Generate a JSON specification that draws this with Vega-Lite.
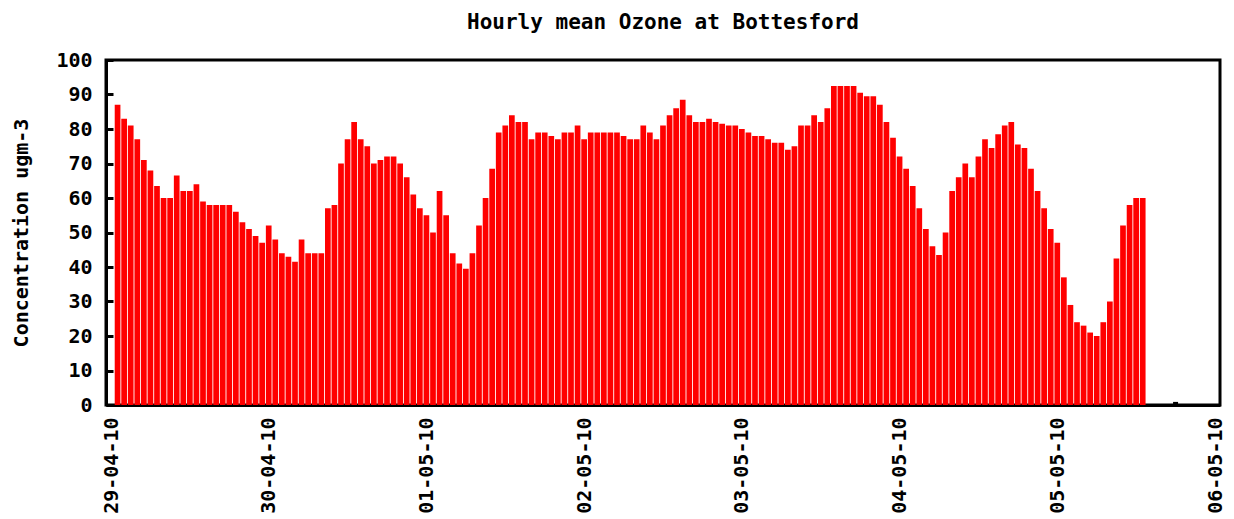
{
  "$schema": "https://vega.github.io/schema/vega-lite/v6.json",
  "autosize": {"type": "none"},
  "width": 1114,
  "height": 345,
  "padding": {"left": 106, "top": 60, "right": 14, "bottom": 114},
  "background": "white",
  "title": {
    "text": "Hourly mean Ozone at Bottesford",
    "font": "DejaVu Sans Mono",
    "fontWeight": "bold",
    "fontSize": 21,
    "color": "black",
    "anchor": "middle",
    "baseline": "alphabetic",
    "offset": 0
  },
  "config": {
    "view": {"stroke": "black", "strokeWidth": 3},
    "axis": {
      "labelFont": "DejaVu Sans Mono",
      "labelFontWeight": "bold",
      "labelFontSize": 20,
      "labelColor": "black",
      "titleFont": "DejaVu Sans Mono",
      "titleFontWeight": "bold",
      "titleFontSize": 20,
      "titleColor": "black",
      "grid": false,
      "domainColor": "black",
      "domainWidth": 3,
      "tickColor": "black",
      "tickWidth": 3,
      "zindex": 1
    }
  },
  "encoding": {
    "x": {
      "field": "t",
      "type": "temporal",
      "scale": {
        "type": "utc",
        "domain": [
          {"year": 2010, "month": 4, "date": 29, "utc": true},
          {"year": 2010, "month": 5, "date": 6, "utc": true}
        ]
      },
      "axis": {
        "title": null,
        "labelExpr": "utcFormat(datum.value, '%d-%m-%y')",
        "labelAngle": 270,
        "labelFontSize": 20,
        "labelPadding": 12,
        "ticks": false,
        "values": [
          {"year": 2010, "month": 4, "date": 29, "utc": true},
          {"year": 2010, "month": 4, "date": 30, "utc": true},
          {"year": 2010, "month": 5, "date": 1, "utc": true},
          {"year": 2010, "month": 5, "date": 2, "utc": true},
          {"year": 2010, "month": 5, "date": 3, "utc": true},
          {"year": 2010, "month": 5, "date": 4, "utc": true},
          {"year": 2010, "month": 5, "date": 5, "utc": true},
          {"year": 2010, "month": 5, "date": 6, "utc": true}
        ],
        "labelOverlap": false
      }
    },
    "y": {
      "field": "v",
      "type": "quantitative",
      "scale": {"domain": [0, 100], "nice": false},
      "axis": {
        "title": "Concentration ugm-3",
        "values": [0, 10, 20, 30, 40, 50, 60, 70, 80, 90, 100],
        "tickSize": -7,
        "labelPadding": 21,
        "titlePadding": 24,
        "labelOverlap": false
      }
    }
  },
  "layer": [
    {
      "data": {
        "values": [
          {"t": "2010-04-29T01:00Z", "v": 87}, {"t": "2010-04-29T02:00Z", "v": 83}, {"t": "2010-04-29T03:00Z", "v": 81},
          {"t": "2010-04-29T04:00Z", "v": 77}, {"t": "2010-04-29T05:00Z", "v": 71}, {"t": "2010-04-29T06:00Z", "v": 68},
          {"t": "2010-04-29T07:00Z", "v": 63.5}, {"t": "2010-04-29T08:00Z", "v": 60}, {"t": "2010-04-29T09:00Z", "v": 60},
          {"t": "2010-04-29T10:00Z", "v": 66.5}, {"t": "2010-04-29T11:00Z", "v": 62}, {"t": "2010-04-29T12:00Z", "v": 62},
          {"t": "2010-04-29T13:00Z", "v": 64}, {"t": "2010-04-29T14:00Z", "v": 59}, {"t": "2010-04-29T15:00Z", "v": 58},
          {"t": "2010-04-29T16:00Z", "v": 58}, {"t": "2010-04-29T17:00Z", "v": 58}, {"t": "2010-04-29T18:00Z", "v": 58},
          {"t": "2010-04-29T19:00Z", "v": 56}, {"t": "2010-04-29T20:00Z", "v": 53}, {"t": "2010-04-29T21:00Z", "v": 51},
          {"t": "2010-04-29T22:00Z", "v": 49}, {"t": "2010-04-29T23:00Z", "v": 47},
          {"t": "2010-04-30T00:00Z", "v": 52}, {"t": "2010-04-30T01:00Z", "v": 48}, {"t": "2010-04-30T02:00Z", "v": 44},
          {"t": "2010-04-30T03:00Z", "v": 43}, {"t": "2010-04-30T04:00Z", "v": 41.5}, {"t": "2010-04-30T05:00Z", "v": 48},
          {"t": "2010-04-30T06:00Z", "v": 44}, {"t": "2010-04-30T07:00Z", "v": 44}, {"t": "2010-04-30T08:00Z", "v": 44},
          {"t": "2010-04-30T09:00Z", "v": 57}, {"t": "2010-04-30T10:00Z", "v": 58}, {"t": "2010-04-30T11:00Z", "v": 70},
          {"t": "2010-04-30T12:00Z", "v": 77}, {"t": "2010-04-30T13:00Z", "v": 82}, {"t": "2010-04-30T14:00Z", "v": 77},
          {"t": "2010-04-30T15:00Z", "v": 75}, {"t": "2010-04-30T16:00Z", "v": 70}, {"t": "2010-04-30T17:00Z", "v": 71},
          {"t": "2010-04-30T18:00Z", "v": 72}, {"t": "2010-04-30T19:00Z", "v": 72}, {"t": "2010-04-30T20:00Z", "v": 70},
          {"t": "2010-04-30T21:00Z", "v": 66}, {"t": "2010-04-30T22:00Z", "v": 61}, {"t": "2010-04-30T23:00Z", "v": 57},
          {"t": "2010-05-01T00:00Z", "v": 55}, {"t": "2010-05-01T01:00Z", "v": 50}, {"t": "2010-05-01T02:00Z", "v": 62},
          {"t": "2010-05-01T03:00Z", "v": 55}, {"t": "2010-05-01T04:00Z", "v": 44}, {"t": "2010-05-01T05:00Z", "v": 41},
          {"t": "2010-05-01T06:00Z", "v": 39.5}, {"t": "2010-05-01T07:00Z", "v": 44}, {"t": "2010-05-01T08:00Z", "v": 52},
          {"t": "2010-05-01T09:00Z", "v": 60}, {"t": "2010-05-01T10:00Z", "v": 68.5}, {"t": "2010-05-01T11:00Z", "v": 79},
          {"t": "2010-05-01T12:00Z", "v": 81}, {"t": "2010-05-01T13:00Z", "v": 84}, {"t": "2010-05-01T14:00Z", "v": 82},
          {"t": "2010-05-01T15:00Z", "v": 82}, {"t": "2010-05-01T16:00Z", "v": 77}, {"t": "2010-05-01T17:00Z", "v": 79},
          {"t": "2010-05-01T18:00Z", "v": 79}, {"t": "2010-05-01T19:00Z", "v": 78}, {"t": "2010-05-01T20:00Z", "v": 77},
          {"t": "2010-05-01T21:00Z", "v": 79}, {"t": "2010-05-01T22:00Z", "v": 79}, {"t": "2010-05-01T23:00Z", "v": 81},
          {"t": "2010-05-02T00:00Z", "v": 77}, {"t": "2010-05-02T01:00Z", "v": 79}, {"t": "2010-05-02T02:00Z", "v": 79},
          {"t": "2010-05-02T03:00Z", "v": 79}, {"t": "2010-05-02T04:00Z", "v": 79}, {"t": "2010-05-02T05:00Z", "v": 79},
          {"t": "2010-05-02T06:00Z", "v": 78}, {"t": "2010-05-02T07:00Z", "v": 77}, {"t": "2010-05-02T08:00Z", "v": 77},
          {"t": "2010-05-02T09:00Z", "v": 81}, {"t": "2010-05-02T10:00Z", "v": 79}, {"t": "2010-05-02T11:00Z", "v": 77},
          {"t": "2010-05-02T12:00Z", "v": 81}, {"t": "2010-05-02T13:00Z", "v": 84}, {"t": "2010-05-02T14:00Z", "v": 86},
          {"t": "2010-05-02T15:00Z", "v": 88.5}, {"t": "2010-05-02T16:00Z", "v": 84}, {"t": "2010-05-02T17:00Z", "v": 82},
          {"t": "2010-05-02T18:00Z", "v": 82}, {"t": "2010-05-02T19:00Z", "v": 83}, {"t": "2010-05-02T20:00Z", "v": 82},
          {"t": "2010-05-02T21:00Z", "v": 81.5}, {"t": "2010-05-02T22:00Z", "v": 81}, {"t": "2010-05-02T23:00Z", "v": 81},
          {"t": "2010-05-03T00:00Z", "v": 80}, {"t": "2010-05-03T01:00Z", "v": 79}, {"t": "2010-05-03T02:00Z", "v": 78},
          {"t": "2010-05-03T03:00Z", "v": 78}, {"t": "2010-05-03T04:00Z", "v": 77}, {"t": "2010-05-03T05:00Z", "v": 76},
          {"t": "2010-05-03T06:00Z", "v": 76}, {"t": "2010-05-03T07:00Z", "v": 74}, {"t": "2010-05-03T08:00Z", "v": 75},
          {"t": "2010-05-03T09:00Z", "v": 81}, {"t": "2010-05-03T10:00Z", "v": 81}, {"t": "2010-05-03T11:00Z", "v": 84},
          {"t": "2010-05-03T12:00Z", "v": 82}, {"t": "2010-05-03T13:00Z", "v": 86}, {"t": "2010-05-03T14:00Z", "v": 92.5},
          {"t": "2010-05-03T15:00Z", "v": 92.5}, {"t": "2010-05-03T16:00Z", "v": 92.5}, {"t": "2010-05-03T17:00Z", "v": 92.5},
          {"t": "2010-05-03T18:00Z", "v": 90.5}, {"t": "2010-05-03T19:00Z", "v": 89.5}, {"t": "2010-05-03T20:00Z", "v": 89.5},
          {"t": "2010-05-03T21:00Z", "v": 87}, {"t": "2010-05-03T22:00Z", "v": 82}, {"t": "2010-05-03T23:00Z", "v": 77.5},
          {"t": "2010-05-04T00:00Z", "v": 72}, {"t": "2010-05-04T01:00Z", "v": 68.5}, {"t": "2010-05-04T02:00Z", "v": 63.5},
          {"t": "2010-05-04T03:00Z", "v": 57}, {"t": "2010-05-04T04:00Z", "v": 51}, {"t": "2010-05-04T05:00Z", "v": 46},
          {"t": "2010-05-04T06:00Z", "v": 43.5}, {"t": "2010-05-04T07:00Z", "v": 50}, {"t": "2010-05-04T08:00Z", "v": 62},
          {"t": "2010-05-04T09:00Z", "v": 66}, {"t": "2010-05-04T10:00Z", "v": 70}, {"t": "2010-05-04T11:00Z", "v": 66},
          {"t": "2010-05-04T12:00Z", "v": 72}, {"t": "2010-05-04T13:00Z", "v": 77}, {"t": "2010-05-04T14:00Z", "v": 74.5},
          {"t": "2010-05-04T15:00Z", "v": 78.5}, {"t": "2010-05-04T16:00Z", "v": 81}, {"t": "2010-05-04T17:00Z", "v": 82},
          {"t": "2010-05-04T18:00Z", "v": 75.5}, {"t": "2010-05-04T19:00Z", "v": 74.5}, {"t": "2010-05-04T20:00Z", "v": 68.5},
          {"t": "2010-05-04T21:00Z", "v": 62}, {"t": "2010-05-04T22:00Z", "v": 57}, {"t": "2010-05-04T23:00Z", "v": 51},
          {"t": "2010-05-05T00:00Z", "v": 47}, {"t": "2010-05-05T01:00Z", "v": 37}, {"t": "2010-05-05T02:00Z", "v": 29},
          {"t": "2010-05-05T03:00Z", "v": 24}, {"t": "2010-05-05T04:00Z", "v": 23}, {"t": "2010-05-05T05:00Z", "v": 21},
          {"t": "2010-05-05T06:00Z", "v": 20}, {"t": "2010-05-05T07:00Z", "v": 24}, {"t": "2010-05-05T08:00Z", "v": 30},
          {"t": "2010-05-05T09:00Z", "v": 42.5}, {"t": "2010-05-05T10:00Z", "v": 52}, {"t": "2010-05-05T11:00Z", "v": 58},
          {"t": "2010-05-05T12:00Z", "v": 60}, {"t": "2010-05-05T13:00Z", "v": 60}
        ]
      },
      "mark": {"type": "bar", "color": "#ff0000", "width": 5.7}
    },
    {
      "data": {"values": [{"t": "2010-05-05T18:00Z", "v": 0.9}]},
      "mark": {"type": "bar", "color": "black", "width": 5}
    }
  ]
}
